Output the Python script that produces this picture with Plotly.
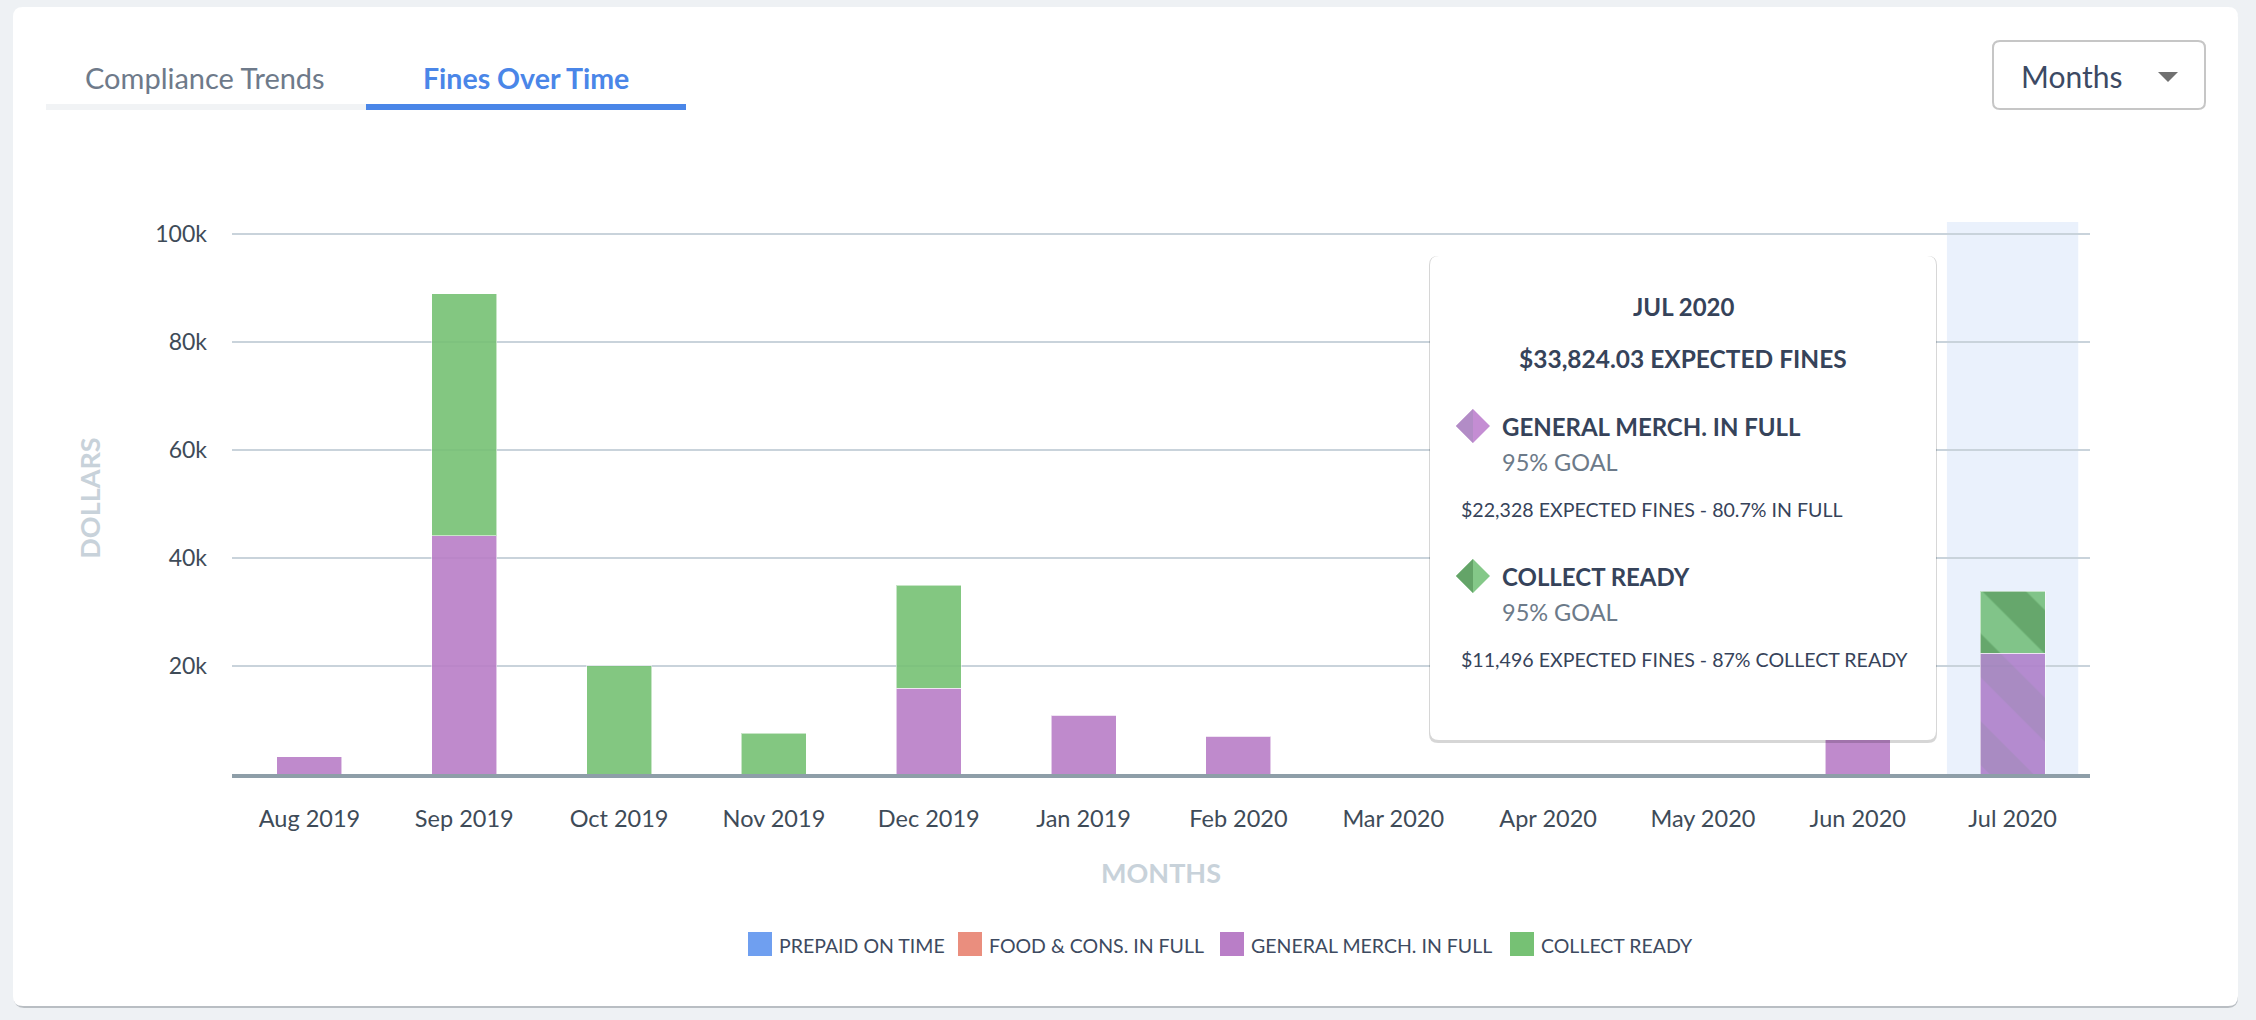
import plotly.graph_objects as go

# ---------------- data ----------------
months = ["Aug 2019", "Sep 2019", "Oct 2019", "Nov 2019", "Dec 2019", "Jan 2019",
          "Feb 2020", "Mar 2020", "Apr 2020", "May 2020", "Jun 2020", "Jul 2020"]
prepaid_on_time = [0, 0, 0, 0, 0, 0, 0, 0, 0, 0, 0, 0]
food_cons_in_full = [0, 0, 0, 0, 0, 0, 0, 0, 0, 0, 0, 0]
general_merch_in_full = [3210, 44100, 0, 0, 15850, 10850, 6970, 0, 0, 0, 8000, 22328]
collect_ready = [0, 44800, 20000, 7520, 19050, 0, 0, 0, 0, 0, 0, 11496]

series_names = ["PREPAID ON TIME", "FOOD & CONS. IN FULL", "GENERAL MERCH. IN FULL", "COLLECT READY"]
series_values = [prepaid_on_time, food_cons_in_full, general_merch_in_full, collect_ready]
series_colors = ["#6f9ff0", "#ea8e7e", "#b97ec7", "#76c174"]
highlight_colors = ["#6a98e6", "#e08878", "#af80cb", "#76c07d"]
pattern_colors = ["#5a8ad8", "#d07a6a", "#a281bc", "#58a05d"]

y_tick_values = [20000, 40000, 60000, 80000, 100000]
y_tick_labels = ["20k", "40k", "60k", "80k", "100k"]

highlight_month = "Jul 2020"
tooltip_title = "JUL 2020"
tooltip_total = "$33,824.03 EXPECTED FINES"
tooltip_items = [
    ("GENERAL MERCH. IN FULL", "95% GOAL", "$22,328 EXPECTED FINES - 80.7% IN FULL"),
    ("COLLECT READY", "95% GOAL", "$11,496 EXPECTED FINES - 87% COLLECT READY"),
]
tabs = ["Compliance Trends", "Fines Over Time"]
dropdown_label = "Months"

# ---------------- geometry helpers ----------------
W, H = 2256, 1020
L, R, T, B = 232, 2090, 222, 774
FONT = "Lato"


def px(x):
    return (x - L) / (R - L)


def py(y):
    return (B - y) / (B - T)


def rrect(x0, y0, x1, y1, r):
    pts = [
        ("M", [(x0 + r, y0)]), ("L", [(x1 - r, y0)]), ("Q", [(x1, y0), (x1, y0 + r)]),
        ("L", [(x1, y1 - r)]), ("Q", [(x1, y1), (x1 - r, y1)]), ("L", [(x0 + r, y1)]),
        ("Q", [(x0, y1), (x0, y1 - r)]), ("L", [(x0, y0 + r)]), ("Q", [(x0, y0), (x0 + r, y0)]),
    ]
    s = ""
    for cmd, ps in pts:
        s += cmd + " ".join(f"{px(a):.5f},{py(b):.5f}" for a, b in ps) + " "
    return s + "Z"


def poly(points):
    return "M" + " L".join(f"{px(a):.5f},{py(b):.5f}" for a, b in points) + " Z"


shapes = []
annotations = []


def add_shape(path, fill, line_color=None, line_width=0, layer="below"):
    shapes.append(dict(type="path", xref="paper", yref="paper", path=path,
                       fillcolor=fill, layer=layer,
                       line=dict(color=line_color or fill, width=line_width)))


def add_text(text, x, y, size, color, xanchor="center", bold=False, angle=0):
    annotations.append(dict(text=f"<b>{text}</b>" if bold else text, x=px(x), y=py(y),
                            xref="paper", yref="paper", showarrow=False,
                            xanchor=xanchor, yanchor="middle", textangle=angle,
                            font=dict(family=FONT, size=size, color=color)))


# ---------------- traces ----------------
fig = go.Figure()
for name, vals, col, hcol, pcol in zip(series_names, series_values, series_colors,
                                       highlight_colors, pattern_colors):
    is_hi = [m == highlight_month for m in months]
    fig.add_trace(go.Bar(
        x=months, y=vals, name=name, width=0.42, showlegend=False,
        marker=dict(color=col, opacity=0.9,
                    line=dict(color="rgba(255,255,255,0.55)", width=1),
                    pattern=dict(shape=["\\" if h else "" for h in is_hi],
                                 fgcolor=pcol, bgcolor=hcol, fgopacity=1,
                                 size=62, solidity=0.5, fillmode="replace")),
    ))

# ---------------- card / page chrome ----------------
add_shape(rrect(14, 10, 2238, 1008, 10), "#b9bec3")          # card shadow
add_shape(rrect(13, 7, 2238, 1006, 10), "#ffffff")           # card
# highlight band behind hovered month
hi = months.index(highlight_month)
shapes.append(dict(type="rect", xref="x", yref="paper", x0=hi - 0.424, x1=hi + 0.424,
                   y0=0, y1=1, fillcolor="#eaf1fc", line=dict(width=0), layer="below"))

# tabs
add_shape(poly([(46, 104), (366, 104), (366, 110), (46, 110)]), "#f1f3f5")
add_shape(poly([(366, 104), (686, 104), (686, 110), (366, 110)]), "#4a86e8")
add_text(tabs[0], 205, 78, 29, "#6e7a8a")
add_text(tabs[1], 526, 78, 28.5, "#4a86e8", bold=True)

# dropdown
add_shape(rrect(1993, 41, 2205, 109, 7), "#ffffff", "#c6c6c6", 2)
add_text(dropdown_label, 2019, 76, 30, "#3c4a64", xanchor="left")
add_shape(poly([(2158, 72), (2178, 72), (2168, 82)]), "#707070")

# legend (manual, square swatches)
legend_x = [748, 958, 1220, 1510]
for name, col, lx in zip(series_names, series_colors, legend_x):
    add_shape(poly([(lx, 932), (lx + 24, 932), (lx + 24, 956), (lx, 956)]), col)
    add_text(name, lx + 29, 945, 19.5, "#3d4a60", xanchor="left")

# tooltip
tx0, ty0, tx1, ty1 = 1430, 256, 1936, 740
add_shape(rrect(tx0 - 1, ty0, tx1 + 1, ty1 + 3, 9), "rgba(0,0,0,0.16)", layer="above")
add_shape(rrect(tx0, ty0, tx1, ty1, 9), "#ffffff", layer="above")
tcx = (tx0 + tx1) / 2
add_text(tooltip_title, tcx, 306, 24, "#36435a", bold=True)
add_text(tooltip_total, tcx, 358, 24.5, "#36435a", bold=True)
diamond_cols = [("#c48dd3", "#b28cc6"), ("#84c888", "#64a468")]
for i, ((head, goal, detail), (cl, cd)) in enumerate(zip(tooltip_items, diamond_cols)):
    yo = i * 150
    dy = 426 + yo
    add_shape(poly([(1473, dy - 17), (1490, dy), (1473, dy + 17), (1456, dy)]), cl, layer="above")
    add_shape(poly([(1473, dy - 17), (1473, dy + 17), (1456, dy)]), cd, layer="above")
    add_text(head, 1500, dy, 24, "#36435a", xanchor="left", bold=True)
    add_text(goal, 1500, 462 + yo, 23.5, "#6c7a89", xanchor="left")
    add_text(detail, 1459, 509 + yo, 19.6, "#36435a", xanchor="left")

# ---------------- layout ----------------
fig.update_layout(
    width=W, height=H,
    margin=dict(l=L, r=W - R, t=T, b=H - B, pad=0),
    barmode="stack",
    paper_bgcolor="#eef1f4",
    plot_bgcolor="rgba(0,0,0,0)",
    font=dict(family=FONT, color="#3e4b58"),
    showlegend=False,
    shapes=shapes,
    annotations=annotations,
    xaxis=dict(
        type="category", range=[-0.5, 11.5], showgrid=False, zeroline=False,
        showline=True, linecolor="#8e9ea8", linewidth=4, ticks="",
        tickfont=dict(family=FONT, size=23.5, color="#3e4b58"),
        ticklabelstandoff=21,
        title=dict(text="<b>MONTHS</b>", standoff=34,
                   font=dict(family=FONT, size=27, color="#c8d2da")),
        fixedrange=True,
    ),
    yaxis=dict(
        range=[0, 102170], tickvals=y_tick_values, ticktext=y_tick_labels,
        showgrid=True, gridcolor="#c9d3db", gridwidth=2, zeroline=False,
        showline=False, ticks="", ticklabelstandoff=24,
        tickfont=dict(family=FONT, size=23, color="#3e4b58"),
        title=dict(text="<b>DOLLARS</b>", standoff=46,
                   font=dict(family=FONT, size=27, color="#c8d2da")),
        fixedrange=True,
    ),
)

fig.write_html("out.html", config={"displayModeBar": False},
               post_script="document.body.style.margin='0';document.body.style.overflow='hidden';")
